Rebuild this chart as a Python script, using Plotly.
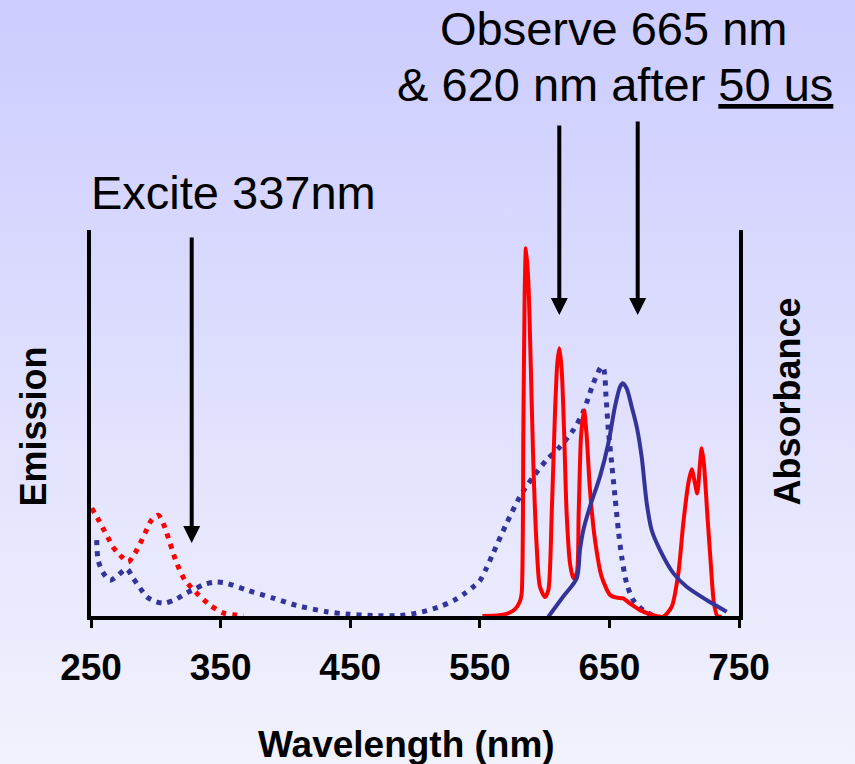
import base64
import plotly.graph_objects as go

# ---------------- data ----------------
# Excitation spectrum (red dotted)
exc_red_wl = [250.5, 255, 259, 263, 267, 270.5, 273.7, 278.7, 284, 288, 291.7, 296.8, 302,
              305.8, 311, 316, 322.5, 331.5, 341.8, 352, 360, 367.5]
exc_red_y = [29.0, 26.5, 24.0, 21.5, 19.0, 17.6, 16.5, 15.2, 17.5, 20.0, 22.6, 26.0, 27.2,
             25.0, 20.0, 15.0, 10.5, 7.2, 4.1, 2.1, 1.6, 1.3]

# Absorbance of the acceptor (blue dotted)
abs_blue_wl = [254.4, 255.5, 259, 264.7, 271, 277.5, 282.5, 287.8, 293, 300, 307, 316, 323.8,
               330, 338, 345.7, 353.4, 370, 390.5, 408.7, 431.8, 447, 467.6, 488, 505, 520,
               530, 538, 545, 550, 555, 560.4, 570.7, 581, 591.3, 601.6, 611.9, 622.2, 629.9,
               637.6, 644, 645.8, 647.4, 649.2, 651.8, 654.3, 656.9, 659.5, 663.3, 668.4,
               676.2, 683.9]
abs_blue_y = [20.8, 15.7, 12.6, 10.5, 11.8, 13.4, 11.0, 8.5, 6.2, 5.0, 4.6, 5.7, 7.2,
              8.2, 9.5, 10.0, 9.8, 8.0, 5.9, 4.0, 2.4, 1.8, 1.4, 1.4, 2.3, 3.8,
              5.3, 7.0, 8.8, 10.3, 13.5, 17.5, 25.1, 32.0, 37.1, 41.4, 44.8, 49.1, 53.8,
              61.1, 65.4, 64.5, 57.7, 49.1, 40.5, 32.0, 23.4, 16.5, 9.7, 5.4,
              2.8, 1.3]

# Donor emission (red solid)
em_red_wl = [552, 565, 572, 577, 581, 582.3, 583.6, 584.6, 585.6, 587.4, 589.3, 591.3, 593.9,
             596.4, 600.3, 602.9, 605.5, 608, 609.8, 611.4, 613.2, 615, 617, 619.6, 622.2,
             624.8, 626.3, 628.1, 630.4, 632.5, 635, 638.9, 644, 650.5, 655.5, 660.7, 665.9,
             673.6, 683.9, 691.6, 698.1, 703.2, 707, 710.9, 713.5, 716, 717.8, 719.9, 721.2,
             722.9, 725.5, 728.2, 730.7, 733.3, 736.6]
em_red_y = [1.3, 1.5, 2.0, 3.0, 5.1, 7.1, 49.0, 83.4, 95.8, 87.7, 66.2, 40.5, 19.1,
            8.8, 6.2, 8.0, 27.7, 53.4, 66.2, 70.1, 64.5, 49.1, 27.7, 14.8, 11.0,
            12.3, 27.7, 47.4, 54.2, 47.4, 33.7, 20.8, 11.4, 6.7, 6.0, 5.8, 4.5,
            2.8, 1.5, 1.1, 3.7, 12.3, 25.1, 35.4, 39.0, 35.4, 32.8, 40.5, 44.4,
            40.5, 27.7, 14.8, 4.5, 1.3, 1.1]

# Acceptor emission (blue solid)
em_blue_wl = [602.9, 614.4, 624.8, 627.3, 629.9, 635, 642.7, 649.2, 654.3, 658.2, 660.3,
              663.3, 667.2, 671.1, 674.9, 678.8, 682.6, 689, 699.3, 709.6, 725, 740.5]
em_blue_y = [1.1, 6.3, 11.0, 18.3, 23.4, 29.4, 37.1, 45.7, 55.1, 60.2, 61.1,
             59.8, 55.1, 49.9, 42.2, 30.3, 23.4, 18.3, 12.3, 8.8, 5.4, 2.4]

x_ticks = [250, 350, 450, 550, 650, 750]
x_range = [250, 750]
y_range = [1.29, 100.5]

# ---------------- styling ----------------
RED = "#FF0000"
BLUE = "#333399"
FONT = "Liberation Sans, Arial, sans-serif"
W_FIG, H_FIG = 855, 764
L, T, W, H = 91, 230, 648, 386
R = W_FIG - L - W
B = H_FIG - T - H


def px(x):
    return (x - L) / W


def py(y):
    return (T + H - y) / H


fig = go.Figure()
dot = "5px,6px"
fig.add_trace(go.Scatter(x=exc_red_wl, y=exc_red_y, mode="lines",
                         line=dict(color=RED, width=5, dash=dot, shape="spline", smoothing=0.8),
                         hoverinfo="skip"))
fig.add_trace(go.Scatter(x=abs_blue_wl, y=abs_blue_y, mode="lines",
                         line=dict(color=BLUE, width=5, dash=dot, shape="spline", smoothing=0.8),
                         hoverinfo="skip"))
fig.add_trace(go.Scatter(x=em_red_wl, y=em_red_y, mode="lines",
                         line=dict(color=RED, width=4, shape="spline", smoothing=0.7),
                         hoverinfo="skip"))
fig.add_trace(go.Scatter(x=em_blue_wl, y=em_blue_y, mode="lines",
                         line=dict(color=BLUE, width=4, shape="spline", smoothing=0.8),
                         hoverinfo="skip"))

# gradient background
svg = ("<svg xmlns='http://www.w3.org/2000/svg' width='855' height='764' preserveAspectRatio='none'>"
       "<defs><linearGradient id='g' x1='0' y1='0' x2='0' y2='1'>"
       "<stop offset='0' stop-color='#CCCCFF'/><stop offset='1' stop-color='#F2F2FD'/>"
       "</linearGradient></defs><rect width='855' height='764' fill='url(#g)'/></svg>")
src = "data:image/svg+xml;base64," + base64.b64encode(svg.encode()).decode()

annotations = [
    dict(text="Observe 665 nm", x=px(613.5), y=py(29), font=dict(size=47)),
    dict(text="&amp; 620 nm after <span style='text-decoration:underline'>50 us</span>",
         x=px(615), y=py(84), font=dict(size=47)),
    dict(text="Excite 337nm", x=px(233), y=py(192), font=dict(size=47)),
    dict(text="<b>Wavelength (nm)</b>", x=px(406.5), y=py(744), font=dict(size=37)),
    dict(text="<b>Emission</b>", x=px(32.5), y=py(427), textangle=-90, font=dict(size=36)),
    dict(text="<b>Absorbance</b>", x=px(787), y=py(401.5), textangle=-90, font=dict(size=36)),
]
for a in annotations:
    a.update(xref="paper", yref="paper", xanchor="center", yanchor="middle", showarrow=False)
    a["font"].update(family=FONT, color="black")

arrows = [(191.7, 543, 236), (559.3, 315, 124), (637.7, 315, 120)]
for (ax_x, tip, tail) in arrows:
    annotations.append(dict(text="", x=px(ax_x), y=py(tip), xref="paper", yref="paper",
                            showarrow=True, ax=0, ay=-(tip - tail), arrowhead=2,
                            arrowsize=0.85, arrowwidth=4, arrowcolor="black",
                            font=dict(size=1)))

fig.update_layout(
    width=W_FIG, height=H_FIG,
    margin=dict(l=L, r=R, t=T, b=B, pad=0),
    paper_bgcolor="#E0E0FC", plot_bgcolor="rgba(0,0,0,0)",
    showlegend=False,
    images=[dict(source=src, xref="paper", yref="paper", x=-L / W, y=1 + T / H,
                 sizex=W_FIG / W, sizey=H_FIG / H, xanchor="left", yanchor="top",
                 sizing="stretch", layer="below")],
    annotations=annotations,
    xaxis=dict(range=x_range, tickvals=x_ticks, ticktext=[f"<b>{v}</b>" for v in x_ticks],
               showline=True, linewidth=4, linecolor="black", showgrid=False, zeroline=False,
               ticks="outside", ticklen=8, tickwidth=3, tickcolor="black",
               tickfont=dict(family=FONT, size=37, color="black"), ticklabelstandoff=8,
               fixedrange=True),
    yaxis=dict(range=y_range, showline=True, mirror=True, linewidth=4, linecolor="black",
               showgrid=False, zeroline=False, showticklabels=False, ticks="",
               fixedrange=True),
)

fig.write_html("out.html")
